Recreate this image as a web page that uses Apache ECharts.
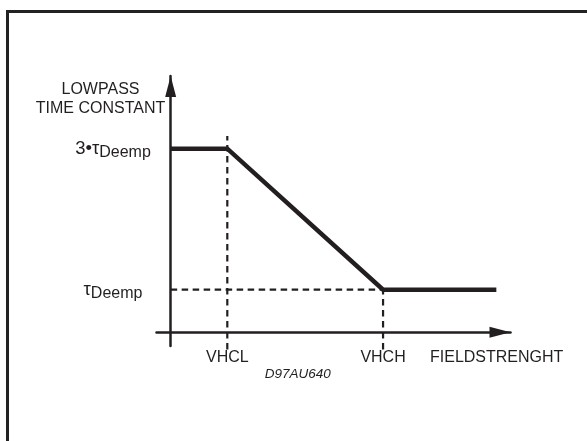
<!DOCTYPE html>
<html>
<head>
<meta charset="utf-8">
<script src="https://cdn.jsdelivr.net/npm/echarts@6/dist/echarts.min.js"></script>
<style>
html,body{margin:0;padding:0;background:#fff;}
#chart{width:587px;height:441px;}
</style>
</head>
<body>
<div id="chart"></div>
<script>
// Schematic positions (arbitrary units)
const xTickValues = [1, 3.75];
const xTickLabels = ['VHCL', 'VHCH'];
const yTickValues = [4.3, 1];
const yTickLabels = ['3•τ|Deemp', 'τ|Deemp'];
const curveX = [0, 1, 3.75, 5.75];
const curveY = [4.3, 4.3, 1, 1];
const vhclGuideX = [1, 1];
const vhclGuideY = [-0.4, 4.6];
const vhchGuideX = [3.75, 3.75];
const vhchGuideY = [-0.4, 1];
const tauGuideX = [0, 3.75];
const tauGuideY = [1, 1];
const yTitle = ['LOWPASS', 'TIME CONSTANT'];
const xTitle = 'FIELDSTRENGHT';
const caption = 'D97AU640';

const INK = '#231f20';
const FONT = '"Liberation Sans", Arial, sans-serif';
const zip = (a, b) => a.map((v, i) => [v, b[i]]);

const chart = echarts.init(document.getElementById('chart'), null, {renderer: 'canvas'});

const dashed = {color: INK, width: 2.2, type: [6.5, 4.5]};
function guide(name, xs, ys) {
  return {
    name, type: 'line', data: zip(xs, ys), symbol: 'none', clip: false,
    lineStyle: dashed, silent: true, z: 2, animation: false
  };
}

chart.setOption({
  animation: false,
  backgroundColor: '#fff',
  grid: {left: 156.5, right: 76.5, top: 76.1, bottom: 95, containLabel: false},
  xAxis: {
    type: 'value', min: -0.25, max: 6,
    splitLine: {show: false},
    axisTick: {show: false},
    axisLine: {
      onZero: true, symbol: ['none', 'triangle'], symbolSize: [11, 21], symbolOffset: [0, -10.5],
      lineStyle: {color: INK, width: 2.5}
    },
    axisLabel: {
      customValues: xTickValues,
      formatter: v => xTickLabels[xTickValues.indexOf(v)] || '',
      color: INK, fontFamily: FONT, fontSize: 16, margin: 4
    }
  },
  yAxis: {
    type: 'value', min: -0.32, max: 6,
    splitLine: {show: false},
    axisTick: {show: false},
    axisLine: {
      onZero: true, symbol: ['none', 'triangle'], symbolSize: [11, 21], symbolOffset: [0, -10.5],
      lineStyle: {color: INK, width: 2.5}
    },
    axisLabel: {
      customValues: yTickValues,
      align: 'center',
      margin: 43.5,
      formatter: v => {
        const s = yTickLabels[yTickValues.indexOf(v)] || '';
        const p = s.split('|');
        return '{n|' + p[0] + '}{s|' + p[1] + '}';
      },
      rich: {
        n: {color: INK, fontFamily: FONT, fontSize: 18.5, lineHeight: 18, verticalAlign: 'top'},
        s: {color: INK, fontFamily: FONT, fontSize: 16, lineHeight: 16, padding: [7, 0, 0, 0]}
      }
    }
  },
  graphic: [
    {
      type: 'rect', silent: true, z: 0,
      shape: {x: 7.5, y: 11.5, width: 700, height: 600},
      style: {fill: 'none', stroke: '#222', lineWidth: 3}
    },
    {
      type: 'text', silent: true, x: 100.5, y: 99,
      style: {
        text: yTitle.join('\n'), fill: INK, font: '16px ' + FONT,
        textAlign: 'center', textVerticalAlign: 'middle', lineHeight: 19.5
      }
    },
    {
      type: 'text', silent: true, x: 430, y: 358,
      style: {text: xTitle, fill: INK, font: '16px ' + FONT, textAlign: 'left', textVerticalAlign: 'middle'}
    },
    {
      type: 'text', silent: true, x: 297.7, y: 374,
      style: {text: caption, fill: INK, font: 'italic 13.5px ' + FONT, textAlign: 'center', textVerticalAlign: 'middle'}
    }
  ],
  series: [
    guide('vhcl', vhclGuideX, vhclGuideY),
    guide('vhch', vhchGuideX, vhchGuideY),
    guide('tau', tauGuideX, tauGuideY),
    {
      name: 'time constant', type: 'line', data: zip(curveX, curveY), symbol: 'none',
      lineStyle: {color: INK, width: 4.5, join: 'miter', cap: 'butt'}, z: 3, animation: false
    }
  ]
});
</script>
</body>
</html>
